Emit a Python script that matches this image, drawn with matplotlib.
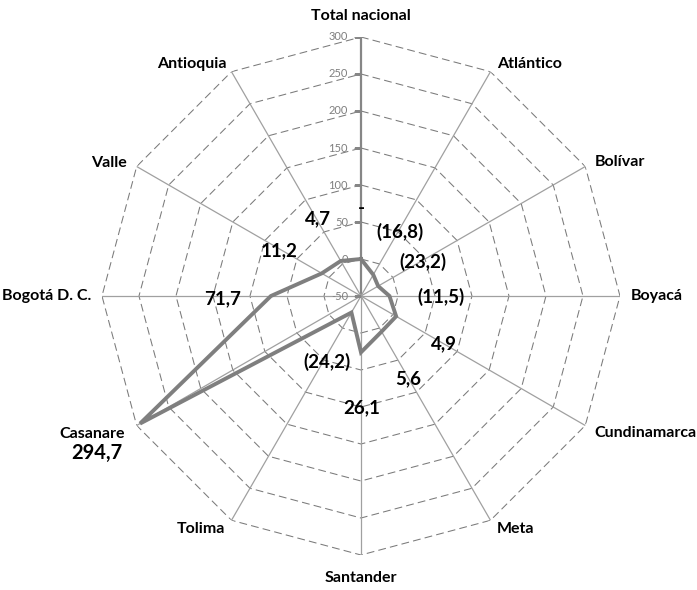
import numpy as np
import matplotlib
matplotlib.use('Agg')
import matplotlib.pyplot as plt

# categories clockwise from the top
categories = ['Total nacional', 'Atlántico', 'Bolívar', 'Boyacá', 'Cundinamarca', 'Meta',
              'Santander', 'Tolima', 'Casanare', 'Bogotá D. C.', 'Valle', 'Antioquia']
values = [0.0, -16.8, -23.2, -11.5, 4.9, 5.6, 26.1, -24.2, 294.7, 71.7, 11.2, 4.7]
rticks = [-50, 0, 50, 100, 150, 200, 250, 300]

# where the value labels sit (angle in degrees, radius in axis units)
lab_ang = [0, 31.4, 61.5, 90.7, 120, 150.5, 179.5, 207, None, 269, 298.8, 330.8]
lab_r = [68, 51, 46, 58, 80, 79, 101, 50, None, 137, 76, 70]
# category label offsets from the outer vertex, pixels
cat_off = [(0, 21, 'center'), (7, 8, 'left'), (9, 5, 'left'), (11, 0, 'left'),
           (9, -7, 'left'), (6, -9, 'left'), (0, -23, 'center'), (-6, -9, 'right'),
           (-12, -8, 'right'), (-11, 0, 'right'), (-10, 4, 'right'), (-5, 8, 'right')]

def fmt(v):
    if v == 0:
        return '-'
    s = f'{abs(v):.1f}'.replace('.', ',')
    return f'({s})' if v < 0 else s

fam = ['Lato', 'DejaVu Sans']
grey = '#7f7f7f'

fig = plt.figure(figsize=(6.97, 5.90), dpi=100)
ax = fig.add_axes([0.1463, 0.0593, 0.7432, 0.878], projection='polar')
ax.set_theta_zero_location('N')
ax.set_theta_direction(-1)
ax.set_ylim(-50, 300)
ax.grid(False)
ax.set_xticks([])
ax.set_yticks([])
ax.spines['polar'].set_visible(False)

n = len(categories)
th = np.deg2rad(np.arange(n) * 360.0 / n)
thc = np.append(th, th[0])

# dashed polygon grid
for lvl in rticks[1:]:
    ax.plot(thc, [lvl] * (n + 1), color='#7a7a7a', lw=0.75, dashes=(7.5, 4))
# spokes
for i, t in enumerate(th):
    if i == 0:
        ax.plot([t, t], [-50, 300], color='#868686', lw=1.6, zorder=2)
    else:
        ax.plot([t, t], [-50, 300], color='#a0a0a0', lw=0.9, zorder=2)

# value axis ticks and labels
ax.plot([0] * len(rticks), rticks, ls='none', marker=0, ms=5, color='#868686', mew=1)
for v in rticks:
    ax.annotate(str(v), (0, v), xytext=(-13, 0), textcoords='offset pixels',
                ha='right', va='center', fontsize=8, color=grey, family=fam)

# data line
vals = np.array(values)
ax.plot(thc, np.append(vals, vals[0]), color=grey, lw=2.8, zorder=4, solid_joinstyle='miter')

# category labels
for i, c in enumerate(categories):
    dx, dy, ha = cat_off[i]
    ax.annotate(c, (th[i], 300), xytext=(dx, dy), textcoords='offset pixels',
                ha=ha, va='center', fontsize=11.5, fontweight='bold', family=fam,
                annotation_clip=False)

# value labels
for i, v in enumerate(values):
    if lab_ang[i] is None:
        ax.annotate(fmt(v), (th[i], 300), xytext=(-14, -27), textcoords='offset pixels',
                    ha='right', va='center', fontsize=14.5, fontweight='bold', family=fam,
                    annotation_clip=False)
    else:
        ax.text(np.deg2rad(lab_ang[i]), lab_r[i], fmt(v), ha='center', va='center',
                fontsize=13.5, fontweight='bold', family=fam, zorder=5)

fig.savefig('out.png', dpi=100)
